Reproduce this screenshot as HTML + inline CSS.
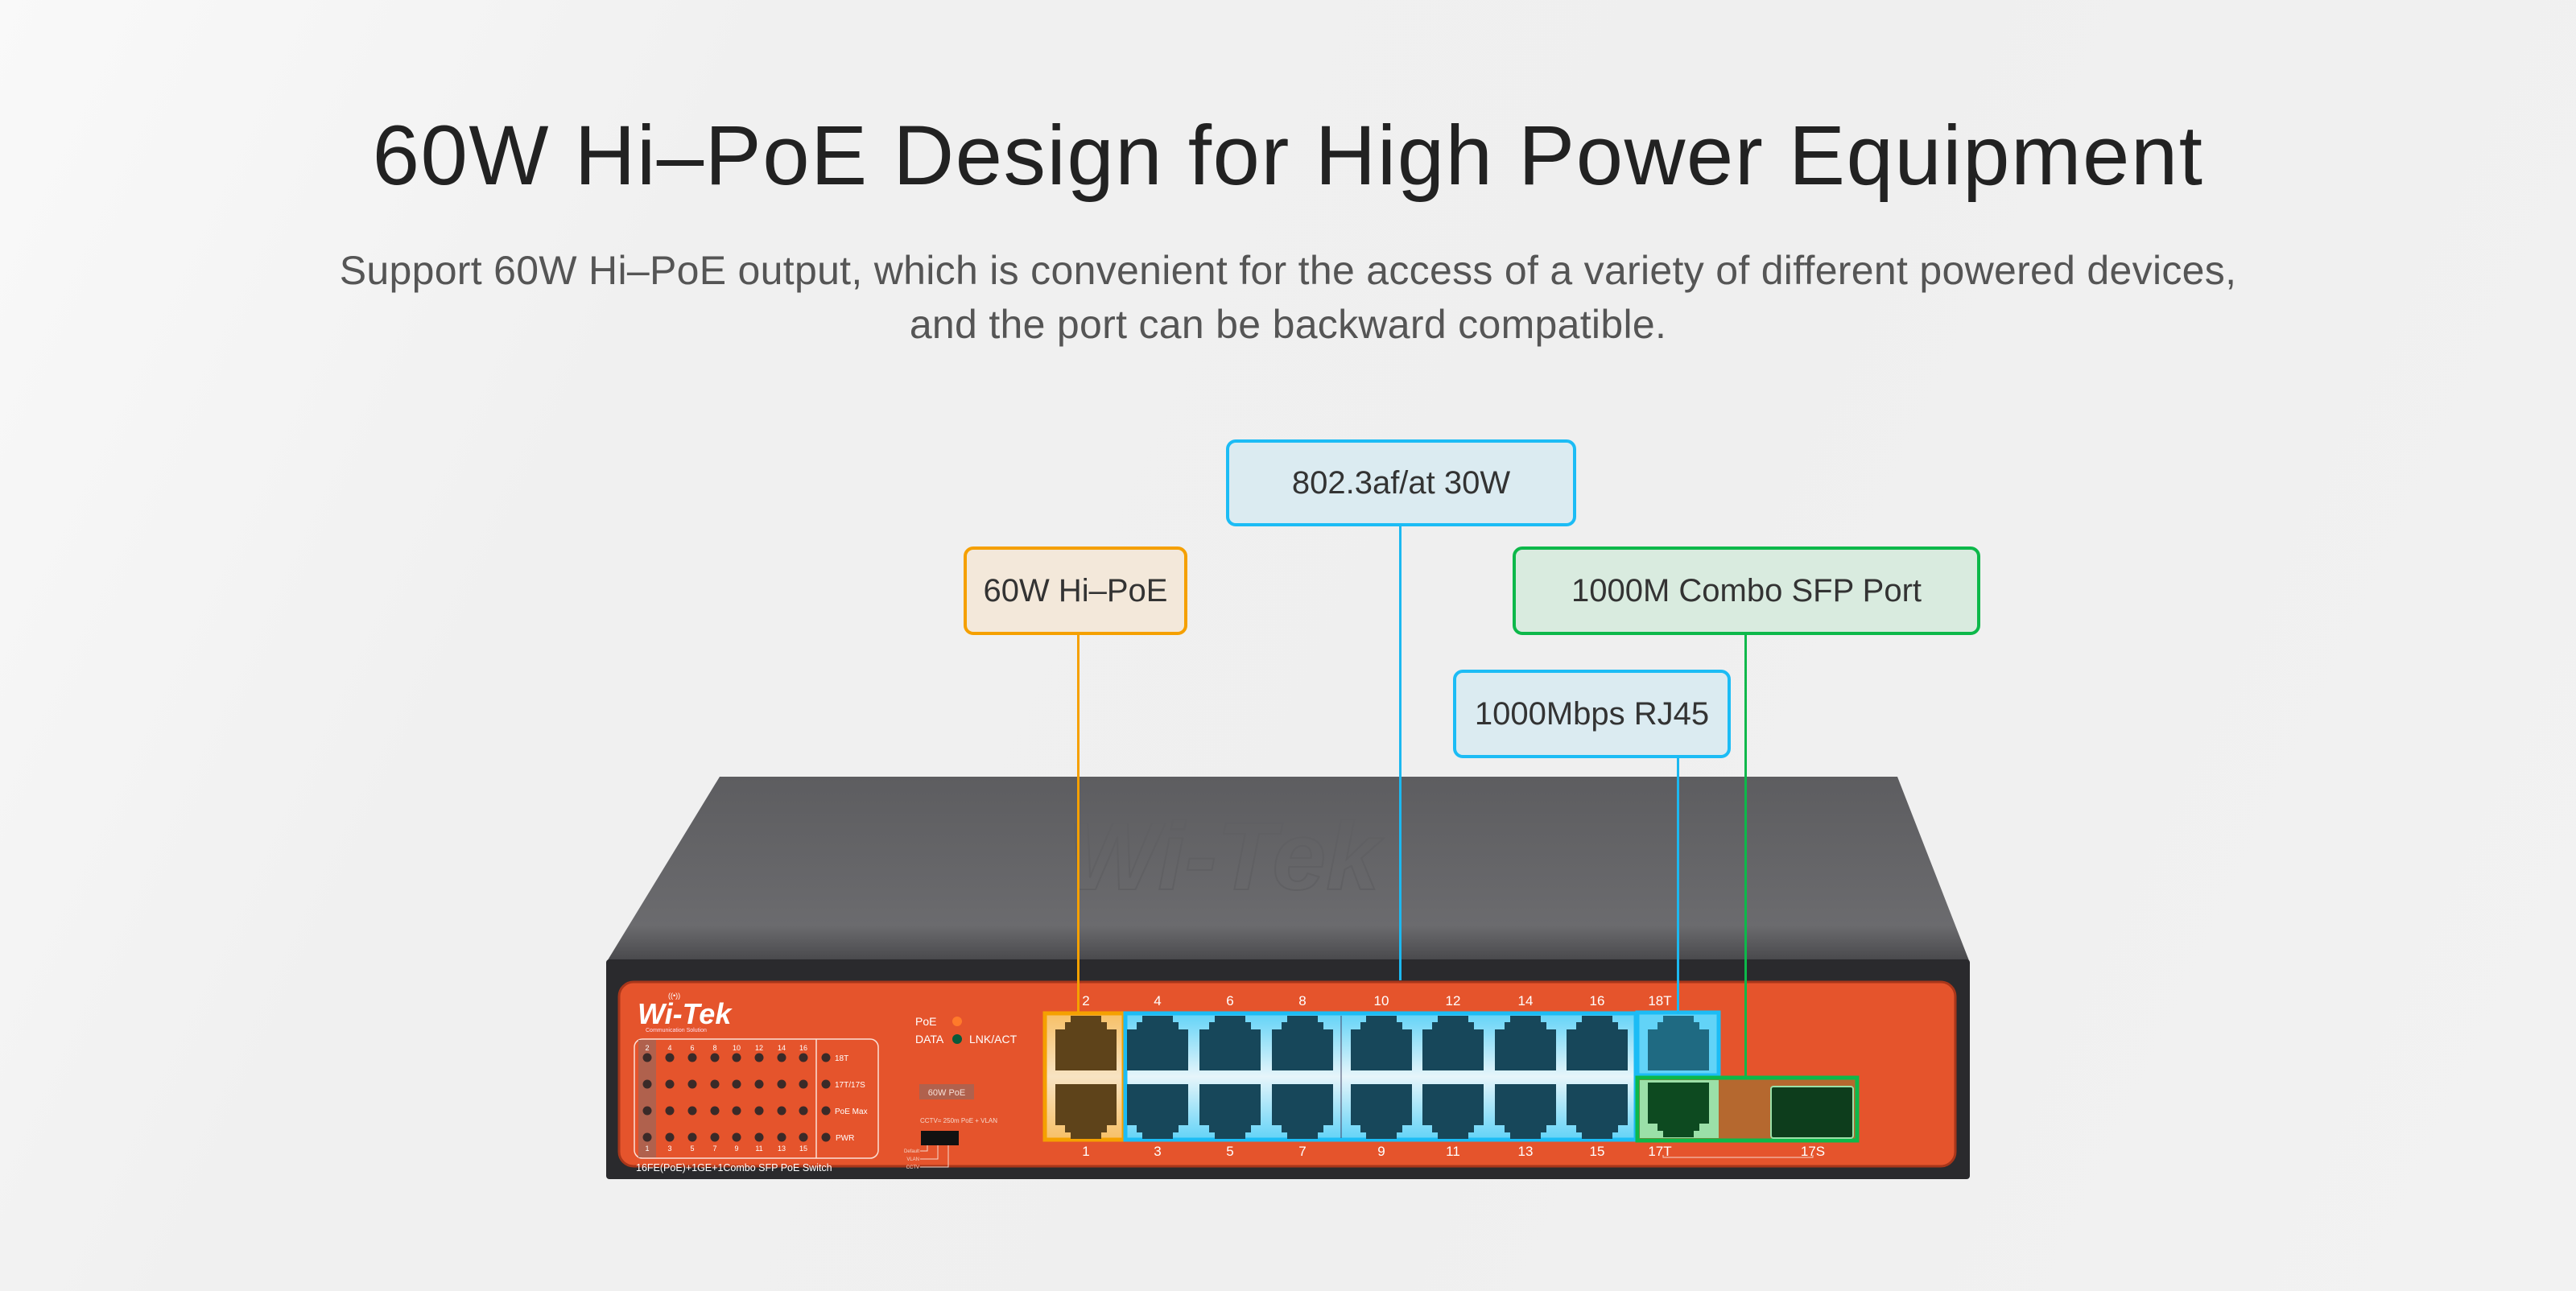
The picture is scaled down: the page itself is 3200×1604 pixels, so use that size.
<!DOCTYPE html>
<html><head><meta charset="utf-8">
<style>
html,body{margin:0;padding:0}
body{width:3200px;height:1604px;position:relative;overflow:hidden;
background:linear-gradient(115deg,#f9f9f9 0%,#f0f0f0 25%,#efefef 60%,#f2f2f2 100%);
font-family:"Liberation Sans",sans-serif}
.t{position:absolute;left:0;width:3200px;text-align:center;color:#222}
.box{position:absolute;box-sizing:border-box;border:4px solid;border-radius:12px;
display:flex;align-items:center;justify-content:center;font-size:40px;color:#333;z-index:3}
.ln{position:absolute;width:3px;z-index:2}
svg{z-index:1}
</style></head><body>
<div class="t" style="top:134px;font-size:105px;letter-spacing:1.5px">60W Hi–PoE Design for High Power Equipment</div>
<div class="t" style="top:303px;font-size:50px;color:#555;line-height:67px;letter-spacing:0.3px">Support 60W Hi–PoE output, which is convenient for the access of a variety of different powered devices,<br>and the port can be backward compatible.</div>

<svg style="position:absolute;left:0;top:0" width="3200" height="1604" viewBox="0 0 3200 1604">
<defs>
<linearGradient id="top" x1="0" y1="0" x2="0" y2="1">
<stop offset="0" stop-color="#5d5d60"/><stop offset="0.8" stop-color="#6b6b6e"/><stop offset="1" stop-color="#47474a"/></linearGradient>
<linearGradient id="bl" x1="0" y1="0" x2="0" y2="1">
<stop offset="0" stop-color="#62d3f7"/><stop offset="0.5" stop-color="#e6f5fa"/><stop offset="1" stop-color="#62d3f7"/></linearGradient>
<linearGradient id="or" x1="0" y1="0" x2="0" y2="1">
<stop offset="0" stop-color="#f7c067"/><stop offset="0.5" stop-color="#f7e3c2"/><stop offset="1" stop-color="#f7c067"/></linearGradient>
<path id="pu" d="M19 0H57V8H64V17H76V68H0V17H12V8H19Z"/>
<path id="pd" d="M0 0H76V51H64V60H57V68H19V60H12V51H0Z"/>
</defs>
<path d="M894 965 L2357 965 L2447 1196 L753 1196 Z" fill="url(#top)"/>
<text x="1520" y="1105" font-size="120" font-style="italic" font-weight="bold" fill="none" stroke="#606063" stroke-width="2" text-anchor="middle" font-family="Liberation Sans">Wi-Tek</text>
<rect x="753" y="1192" width="1694" height="273" rx="4" fill="#2a2a2d"/>
<rect x="769" y="1220" width="1660" height="229" rx="18" fill="#e5542c" stroke="#a8361a" stroke-width="3"/>
<text x="792" y="1272" font-size="36" font-style="italic" font-weight="bold" fill="#fff" font-family="Liberation Sans">Wi-Tek</text>
<text x="802" y="1282" font-size="7" fill="#fde" font-family="Liberation Sans">Communication Solution</text>
<text x="830" y="1240" font-size="9" fill="#fff">((•))</text>
<rect x="788" y="1291" width="303" height="148" rx="10" fill="none" stroke="#fbe0d6" stroke-width="1.5"/>
<line x1="1014" y1="1291" x2="1014" y2="1439" stroke="#fbe0d6" stroke-width="1.5"/>
<rect x="793" y="1292" width="22" height="146" fill="#b0614d"/>
<g fill="#3a2a28">
<circle cx="804" cy="1314" r="5.5"/><circle cx="832" cy="1314" r="5.5"/><circle cx="860" cy="1314" r="5.5"/><circle cx="888" cy="1314" r="5.5"/><circle cx="915" cy="1314" r="5.5"/><circle cx="943" cy="1314" r="5.5"/><circle cx="971" cy="1314" r="5.5"/><circle cx="998" cy="1314" r="5.5"/><circle cx="1026" cy="1314" r="5.5"/>
<circle cx="804" cy="1347" r="5.5"/><circle cx="832" cy="1347" r="5.5"/><circle cx="860" cy="1347" r="5.5"/><circle cx="888" cy="1347" r="5.5"/><circle cx="915" cy="1347" r="5.5"/><circle cx="943" cy="1347" r="5.5"/><circle cx="971" cy="1347" r="5.5"/><circle cx="998" cy="1347" r="5.5"/><circle cx="1026" cy="1347" r="5.5"/>
<circle cx="804" cy="1380" r="5.5"/><circle cx="832" cy="1380" r="5.5"/><circle cx="860" cy="1380" r="5.5"/><circle cx="888" cy="1380" r="5.5"/><circle cx="915" cy="1380" r="5.5"/><circle cx="943" cy="1380" r="5.5"/><circle cx="971" cy="1380" r="5.5"/><circle cx="998" cy="1380" r="5.5"/><circle cx="1026" cy="1380" r="5.5"/>
<circle cx="804" cy="1413" r="5.5"/><circle cx="832" cy="1413" r="5.5"/><circle cx="860" cy="1413" r="5.5"/><circle cx="888" cy="1413" r="5.5"/><circle cx="915" cy="1413" r="5.5"/><circle cx="943" cy="1413" r="5.5"/><circle cx="971" cy="1413" r="5.5"/><circle cx="998" cy="1413" r="5.5"/><circle cx="1026" cy="1413" r="5.5"/>
</g>
<g fill="#fff" font-size="9" font-family="Liberation Sans" text-anchor="middle">
<text x="804" y="1305">2</text><text x="832" y="1305">4</text><text x="860" y="1305">6</text><text x="888" y="1305">8</text><text x="915" y="1305">10</text><text x="943" y="1305">12</text><text x="971" y="1305">14</text><text x="998" y="1305">16</text>
<text x="804" y="1430">1</text><text x="832" y="1430">3</text><text x="860" y="1430">5</text><text x="888" y="1430">7</text><text x="915" y="1430">9</text><text x="943" y="1430">11</text><text x="971" y="1430">13</text><text x="998" y="1430">15</text>
</g>
<g fill="#fff" font-size="10" font-family="Liberation Sans">
<text x="1037" y="1318">18T</text><text x="1037" y="1351">17T/17S</text><text x="1037" y="1384">PoE Max</text><text x="1038" y="1417">PWR</text>
<text x="790" y="1455" font-size="12.5">16FE(PoE)+1GE+1Combo SFP PoE Switch</text>
<text x="1137" y="1274" font-size="14">PoE</text><text x="1137" y="1296" font-size="14">DATA</text><text x="1204" y="1296" font-size="14">LNK/ACT</text>
</g>
<circle cx="1189" cy="1269" r="6" fill="#ff7a2a"/><circle cx="1189" cy="1291" r="6" fill="#0a5a3a"/>
<rect x="1142" y="1347" width="68" height="19" fill="#b0614d"/>
<text x="1176" y="1361" fill="#f5e0d8" font-size="11" text-anchor="middle" font-family="Liberation Sans">60W PoE</text>
<text x="1143" y="1395" fill="#f5d8cc" font-size="8" font-family="Liberation Sans">CCTV= 250m PoE + VLAN</text>
<rect x="1144" y="1405" width="47" height="18" fill="#111"/>
<g stroke="#f5d8cc" stroke-width="1" fill="none"><path d="M1152 1423V1430H1143M1165 1423V1440H1143M1178 1423V1450H1143"/></g>
<g fill="#f5d8cc" font-size="6" font-family="Liberation Sans" text-anchor="end"><text x="1142" y="1432">Default</text><text x="1142" y="1442">VLAN</text><text x="1142" y="1452">CCTV</text></g>

<rect x="1298" y="1259" width="98" height="157" fill="url(#or)" stroke="#f5a000" stroke-width="5"/>
<rect x="1398" y="1259" width="634" height="157" fill="url(#bl)" stroke="#1cbcf5" stroke-width="5"/>
<line x1="1666" y1="1262" x2="1666" y2="1414" stroke="#446" stroke-width="1"/>
<rect x="2034" y="1258" width="101" height="78" fill="#62d3f7" stroke="#1cbcf5" stroke-width="5"/>
<rect x="2034" y="1339" width="273" height="78" fill="#b5682f" stroke="#0db84a" stroke-width="5"/>
<rect x="2037" y="1342" width="98" height="72" fill="#9be0a8"/>
<rect x="2200" y="1350" width="102" height="64" rx="3" fill="#0d3d1c" stroke="#9be0a8" stroke-width="2"/>

<g fill="#5e431a">
<use href="#pu" x="1311" y="1262"/><use href="#pd" x="1311" y="1347"/></g>
<g fill="#17475a">
<use href="#pu" x="1400" y="1262"/><use href="#pu" x="1490" y="1262"/><use href="#pu" x="1580" y="1262"/>
<use href="#pu" x="1678" y="1262"/><use href="#pu" x="1767" y="1262"/><use href="#pu" x="1857" y="1262"/><use href="#pu" x="1946" y="1262"/>
<use href="#pd" x="1400" y="1347"/><use href="#pd" x="1490" y="1347"/><use href="#pd" x="1580" y="1347"/>
<use href="#pd" x="1678" y="1347"/><use href="#pd" x="1767" y="1347"/><use href="#pd" x="1857" y="1347"/><use href="#pd" x="1946" y="1347"/>
<use href="#pu" x="2047" y="1262" fill="#1f6a82"/>
</g>
<use href="#pd" x="2047" y="1345" fill="#0d4a20"/>

<g fill="#fff" font-size="17" font-family="Liberation Sans" text-anchor="middle">
<text x="1349" y="1249">2</text><text x="1438" y="1249">4</text><text x="1528" y="1249">6</text><text x="1618" y="1249">8</text>
<text x="1716" y="1249">10</text><text x="1805" y="1249">12</text><text x="1895" y="1249">14</text><text x="1984" y="1249">16</text><text x="2062" y="1249">18T</text>
<text x="1349" y="1436">1</text><text x="1438" y="1436">3</text><text x="1528" y="1436">5</text><text x="1618" y="1436">7</text>
<text x="1716" y="1436">9</text><text x="1805" y="1436">11</text><text x="1895" y="1436">13</text><text x="1984" y="1436">15</text><text x="2062" y="1436">17T</text><text x="2252" y="1436">17S</text>
</g>
<path d="M2066 1435V1438H2252V1435" stroke="#f5d8cc" fill="none" stroke-width="1"/>
</svg>

<div class="ln" style="left:1338px;top:786px;height:472px;background:#f5a000"></div>
<div class="ln" style="left:1738px;top:650px;height:568px;background:#1cb8f0"></div>
<div class="ln" style="left:2083px;top:939px;height:320px;background:#1cb8f0"></div>
<div class="ln" style="left:2167px;top:786px;height:553px;background:#0db84a"></div>

<div class="box" style="left:1523px;top:546px;width:435px;height:108px;border-color:#1cbcf5;background:#dbebf1">802.3af/at 30W</div>
<div class="box" style="left:1197px;top:679px;width:278px;height:110px;border-color:#f5a000;background:#f3e8da">60W Hi–PoE</div>
<div class="box" style="left:1879px;top:679px;width:581px;height:110px;border-color:#0db84a;background:#d9ebdf">1000M Combo SFP Port</div>
<div class="box" style="left:1805px;top:832px;width:345px;height:110px;border-color:#1cbcf5;background:#dbebf1">1000Mbps RJ45</div>
</body></html>
